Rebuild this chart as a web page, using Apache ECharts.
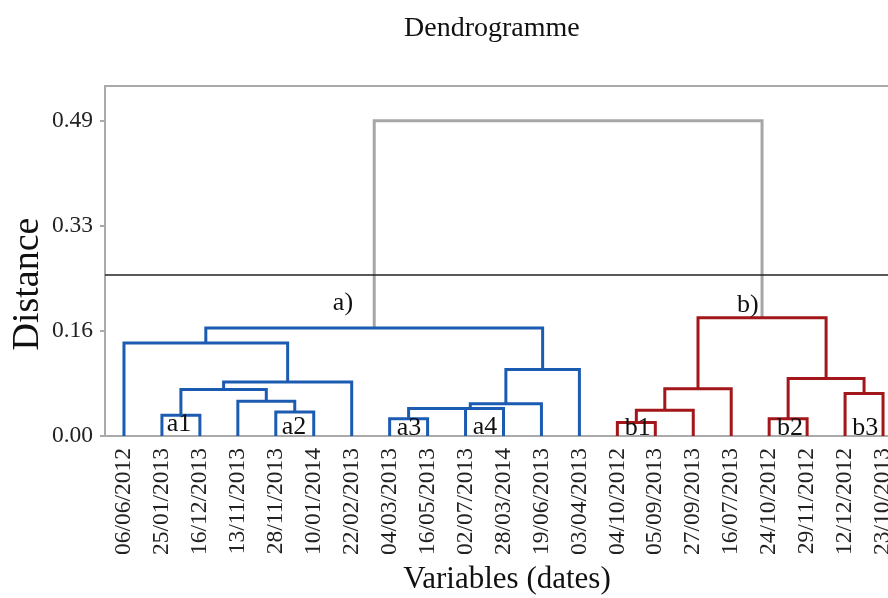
<!DOCTYPE html>
<html><head><meta charset="utf-8">
<script src="https://cdn.jsdelivr.net/npm/echarts@6/dist/echarts.min.js"></script>
<style>html,body{margin:0;padding:0;background:#fff}#c{width:888px;height:598px}</style>
</head><body><div id="c"></div>
<script>
// Leaves (dates) in dendrogram order
const leaves = ['06/06/2012','25/01/2013','16/12/2013','13/11/2013','28/11/2013','10/01/2014','22/02/2013',
  '04/03/2013','16/05/2013','02/07/2013','28/03/2014','19/06/2013','03/04/2013',
  '04/10/2012','05/09/2013','27/09/2013','16/07/2013','24/10/2012','29/11/2012','12/12/2012','23/10/2013'];
// Linkage: [left child, right child, distance]; ids >= leaves.length refer to earlier merges
const mergeLeft  = [1, 4, 3, 21, 24, 0, 7, 27, 28, 29, 30, 26, 13, 33, 34, 17, 19, 36, 35, 32];
const mergeRight = [2, 5, 22, 23, 6, 25, 8, 9, 10, 11, 12, 31, 14, 15, 16, 18, 20, 37, 38, 39];
const mergeDist  = [0.0322, 0.0373, 0.0539, 0.0721, 0.0839, 0.1445, 0.0270, 0.0426, 0.0426, 0.0503, 0.1032, 0.1678,
                    0.0208, 0.0399, 0.0736, 0.0270, 0.0659, 0.0892, 0.1839, 0.4900];
const yTicks = [0, 0.1633, 0.3267, 0.49];
const cutHeight = 0.254;
const clusterLabels = ['a1','a2','a3','a4','b1','b2','b3'];
const clusterLabelX = [1.45, 4.48, 7.51, 9.51, 13.54, 17.55, 19.53];
const clusterLabelY = [0.0186, 0.014, 0.0124, 0.014, 0.0124, 0.0124, 0.0124];
const groupLabels = ['a)', 'b)'];
const groupLabelX = [5.77, 16.44];
const groupLabelY = [0.2066, 0.2035];

const SERIF = '"Liberation Serif", "Times New Roman", serif';
const colors = ['#a6a6a6', '#1c5bb2', '#a3161a'];

const n = leaves.length;
const pos = leaves.map((_, i) => i);
const hgt = leaves.map(() => 0);
const kids = {};
for (let k = 0; k < mergeDist.length; k++) {
  const id = n + k, l = mergeLeft[k], r = mergeRight[k];
  pos[id] = (pos[l] + pos[r]) / 2;
  hgt[id] = mergeDist[k];
  kids[id] = [l, r];
}
const colorOf = {};
function paint(node, c) { colorOf[node] = c; if (kids[node]) kids[node].forEach(ch => paint(ch, c)); }
const root = n + mergeDist.length - 1;
colorOf[root] = 0;
paint(kids[root][0], 1);
paint(kids[root][1], 2);

const segs = [];
for (let k = mergeDist.length - 1; k >= 0; k--) {
  const id = n + k, l = mergeLeft[k], r = mergeRight[k];
  segs.push([pos[l], hgt[l], pos[r], hgt[r], hgt[id], colorOf[id]]);
}
const annots = [];
clusterLabels.forEach((t, i) => annots.push([clusterLabelX[i], clusterLabelY[i], t]));
groupLabels.forEach((t, i) => annots.push([groupLabelX[i], groupLabelY[i], t]));

const chart = echarts.init(document.getElementById('c'), null, {renderer: 'canvas'});
chart.setOption({
  animation: false,
  backgroundColor: '#fff',
  title: {
    text: 'Dendrogramme', left: 399, top: 10,
    textStyle: {fontFamily: SERIF, fontSize: 28, fontWeight: 'normal', color: '#111'}
  },
  grid: {left: 105, right: -14, top: 86, bottom: 162, show: true, borderColor: '#aaa', borderWidth: 2,
         outerBoundsMode: 'none', containLabel: false},
  xAxis: [{
    type: 'category', data: leaves, boundaryGap: true,
    axisLine: {onZero: false, lineStyle: {color: '#aaa', width: 2}},
    axisTick: {alignWithLabel: true, length: 5, lineStyle: {color: '#aaa', width: 1.5}},
    axisLabel: {rotate: 90, interval: 0, fontFamily: SERIF, fontSize: 23.5, color: '#222', margin: 12},
    splitLine: {show: false}
  }, {
    type: 'value', min: -0.5, max: 20.5, show: false
  }],
  yAxis: {
    type: 'value', min: 0, max: 0.544,
    axisLine: {show: true, onZero: false, lineStyle: {color: '#aaa', width: 2}},
    axisTick: {show: true, length: 5, customValues: yTicks, lineStyle: {color: '#aaa', width: 2}},
    axisLabel: {customValues: yTicks, formatter: v => v.toFixed(2), fontFamily: SERIF, fontSize: 23.5, color: '#222', margin: 12},
    splitLine: {show: false}
  },
  graphic: [
    {type: 'text', x: 28, y: 284, rotation: Math.PI / 2,
     style: {text: 'Distance', font: '38px ' + SERIF, fill: '#111', textAlign: 'center', textVerticalAlign: 'middle'}},
    {type: 'text', x: 507, y: 580,
     style: {text: 'Variables (dates)', font: '31px ' + SERIF, fill: '#111', textAlign: 'center', textVerticalAlign: 'middle'}}
  ],
  series: [{
    type: 'custom', xAxisIndex: 1, yAxisIndex: 0, data: segs, clip: false,
    renderItem: (params, api) => {
      const p1 = api.coord([api.value(0), api.value(1)]);
      const p2 = api.coord([api.value(0), api.value(4)]);
      const p3 = api.coord([api.value(2), api.value(4)]);
      const p4 = api.coord([api.value(2), api.value(3)]);
      return {type: 'polyline', shape: {points: [p1, p2, p3, p4]},
              style: {stroke: colors[api.value(5)], lineWidth: 3, fill: null}};
    },
    markLine: {silent: true, symbol: 'none', label: {show: false},
      lineStyle: {color: '#222', width: 1.5, type: 'solid'}, data: [{yAxis: cutHeight}]}
  }, {
    type: 'custom', xAxisIndex: 1, yAxisIndex: 0, data: annots, clip: false, z: 5,
    renderItem: (params, api) => {
      const p = api.coord([api.value(0), api.value(1)]);
      return {type: 'text', x: p[0], y: p[1],
              style: {text: annots[params.dataIndex][2], font: '26px ' + SERIF, fill: '#111',
                      textAlign: 'center', textVerticalAlign: 'middle'}};
    }
  }]
});
</script></body></html>
